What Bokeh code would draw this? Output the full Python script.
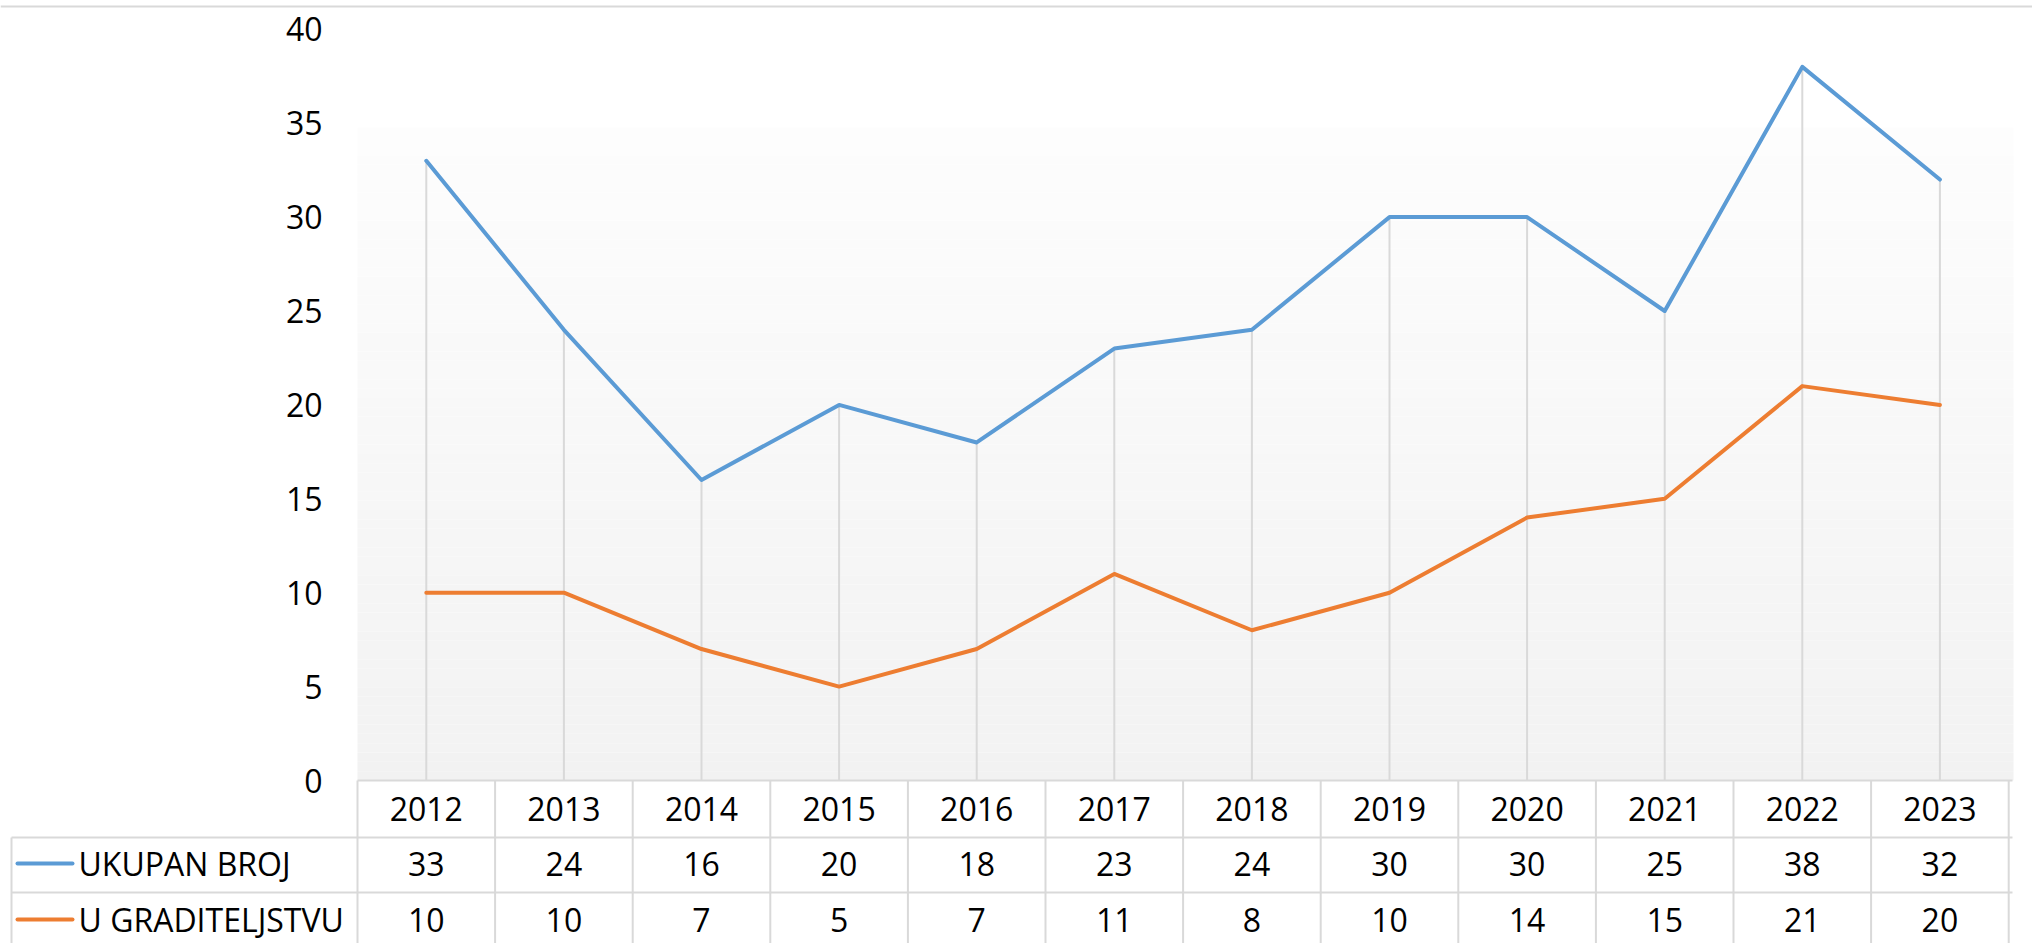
from bokeh.plotting import figure
from bokeh.models import LinearAxis, FixedTicker, Range1d
from bokeh.core.properties import value
from bokeh.embed import file_html
from bokeh.resources import INLINE

# ---------------- data ----------------
years = ["2012", "2013", "2014", "2015", "2016", "2017",
         "2018", "2019", "2020", "2021", "2022", "2023"]
ukupan_broj = [33, 24, 16, 20, 18, 23, 24, 30, 30, 25, 38, 32]
u_graditeljstvu = [10, 10, 7, 5, 7, 11, 8, 10, 14, 15, 21, 20]
series_names = ["UKUPAN BROJ", "U GRADITELJSTVU"]
y_ticks = [0, 5, 10, 15, 20, 25, 30, 35, 40]

# ---------------- style / layout ----------------
BLUE = "#5b9bd5"
ORANGE = "#ed7d31"
GRID = "#d9d9d9"
FONT = value("Open Sans")
FS = "32px"

W, H = 2032, 943
OFF = 0          # screen offset of the figure
PX_X = 137.6     # pixels per category
PX_Y = 18.78     # pixels per value unit
SX0 = 357        # screen x of the category axis start
SY0 = 780        # screen y of value 0


def dx(sx):
    return (sx - SX0) / PX_X


def dy(sy):
    return (SY0 - sy) / PX_Y


p = figure(width=W, height=H, output_backend="svg", toolbar_location=None,
           x_range=Range1d(dx(OFF), dx(OFF + W)), y_range=Range1d(dy(OFF + H), dy(OFF)),
           x_axis_type=None, y_axis_type=None,
           min_border=0, min_border_left=0, min_border_right=0,
           min_border_top=0, min_border_bottom=0)
p.outline_line_color = None
p.background_fill_color = "white"
p.border_fill_color = "white"

n = len(years)
xc = [i + 0.5 for i in range(n)]

# gradient background of the plot area
N = 70
top_v, bot_v = dy(127), 0.0
bands_b, bands_t, cols = [], [], []
for k in range(N):
    b = bot_v + (top_v - bot_v) * k / N
    t = bot_v + (top_v - bot_v) * (k + 1) / N
    f = (k + 0.5) / N
    c = int(round(242 + (253 - 242) * f))
    bands_b.append(b)
    bands_t.append(t)
    cols.append("#%02x%02x%02x" % (c, c, c))
p.quad(left=0, right=dx(2013), bottom=bands_b, top=bands_t,
       fill_color=cols, line_color=None)

# top border line of the chart area
p.segment(x0=dx(OFF), y0=dy(6), x1=dx(OFF + W), y1=dy(6), line_color=GRID, line_width=2)

# drop lines
tops = [max(a, b) for a, b in zip(ukupan_broj, u_graditeljstvu)]
p.segment(x0=xc, y0=[0] * n, x1=xc, y1=tops, line_color=GRID, line_width=2)

# series
p.line(xc, ukupan_broj, line_color=BLUE, line_width=4, line_join="round", line_cap="round")
p.line(xc, u_graditeljstvu, line_color=ORANGE, line_width=4, line_join="round", line_cap="round")

# y axis at fixed location
yaxis = LinearAxis(fixed_location=0, ticker=FixedTicker(ticks=y_ticks))
yaxis.axis_line_color = None
yaxis.major_tick_line_color = None
yaxis.minor_tick_line_color = None
yaxis.major_tick_out = 0
yaxis.major_tick_in = 0
yaxis.major_label_standoff = 35
yaxis.major_label_text_font = "Open Sans"
yaxis.major_label_text_font_size = FS
yaxis.major_label_text_color = "black"
p.add_layout(yaxis, "left")

# ---------------- data table ----------------
row_y = [dy(808), dy(863), dy(919)]
bottom = dy(OFF + H)
right = dx(2012)
# horizontal borders
p.segment(x0=[0, dx(11), dx(11)], y0=[0, dy(837), dy(892)],
          x1=[right] * 3, y1=[0, dy(837), dy(892)], line_color=GRID, line_width=2)
# vertical borders
vx = [float(k) for k in range(n + 1)] + [dx(11)]
vtop = [0.0] * (n + 1) + [dy(837)]
p.segment(x0=vx, y0=vtop, x1=vx, y1=[bottom] * len(vx), line_color=GRID, line_width=2)

p.text(x=xc, y=[row_y[0]] * n, text=years, text_font=FONT, text_font_size=FS,
       text_align="center", text_baseline="middle", text_color="black")
p.text(x=xc, y=[row_y[1]] * n, text=[str(v) for v in ukupan_broj], text_font=FONT,
       text_font_size=FS, text_align="center", text_baseline="middle", text_color="black")
p.text(x=xc, y=[row_y[2]] * n, text=[str(v) for v in u_graditeljstvu], text_font=FONT,
       text_font_size=FS, text_align="center", text_baseline="middle", text_color="black")

# legend keys inside the table
p.segment(x0=[dx(17)] * 2, y0=row_y[1:], x1=[dx(72)] * 2, y1=row_y[1:],
          line_color=[BLUE, ORANGE], line_width=4, line_cap="round")
p.text(x=[dx(78)] * 2, y=row_y[1:], text=series_names, text_font=FONT, text_font_size=FS,
       text_align="left", text_baseline="middle", text_color="black")

open("out.html", "w").write(file_html(p, INLINE))
